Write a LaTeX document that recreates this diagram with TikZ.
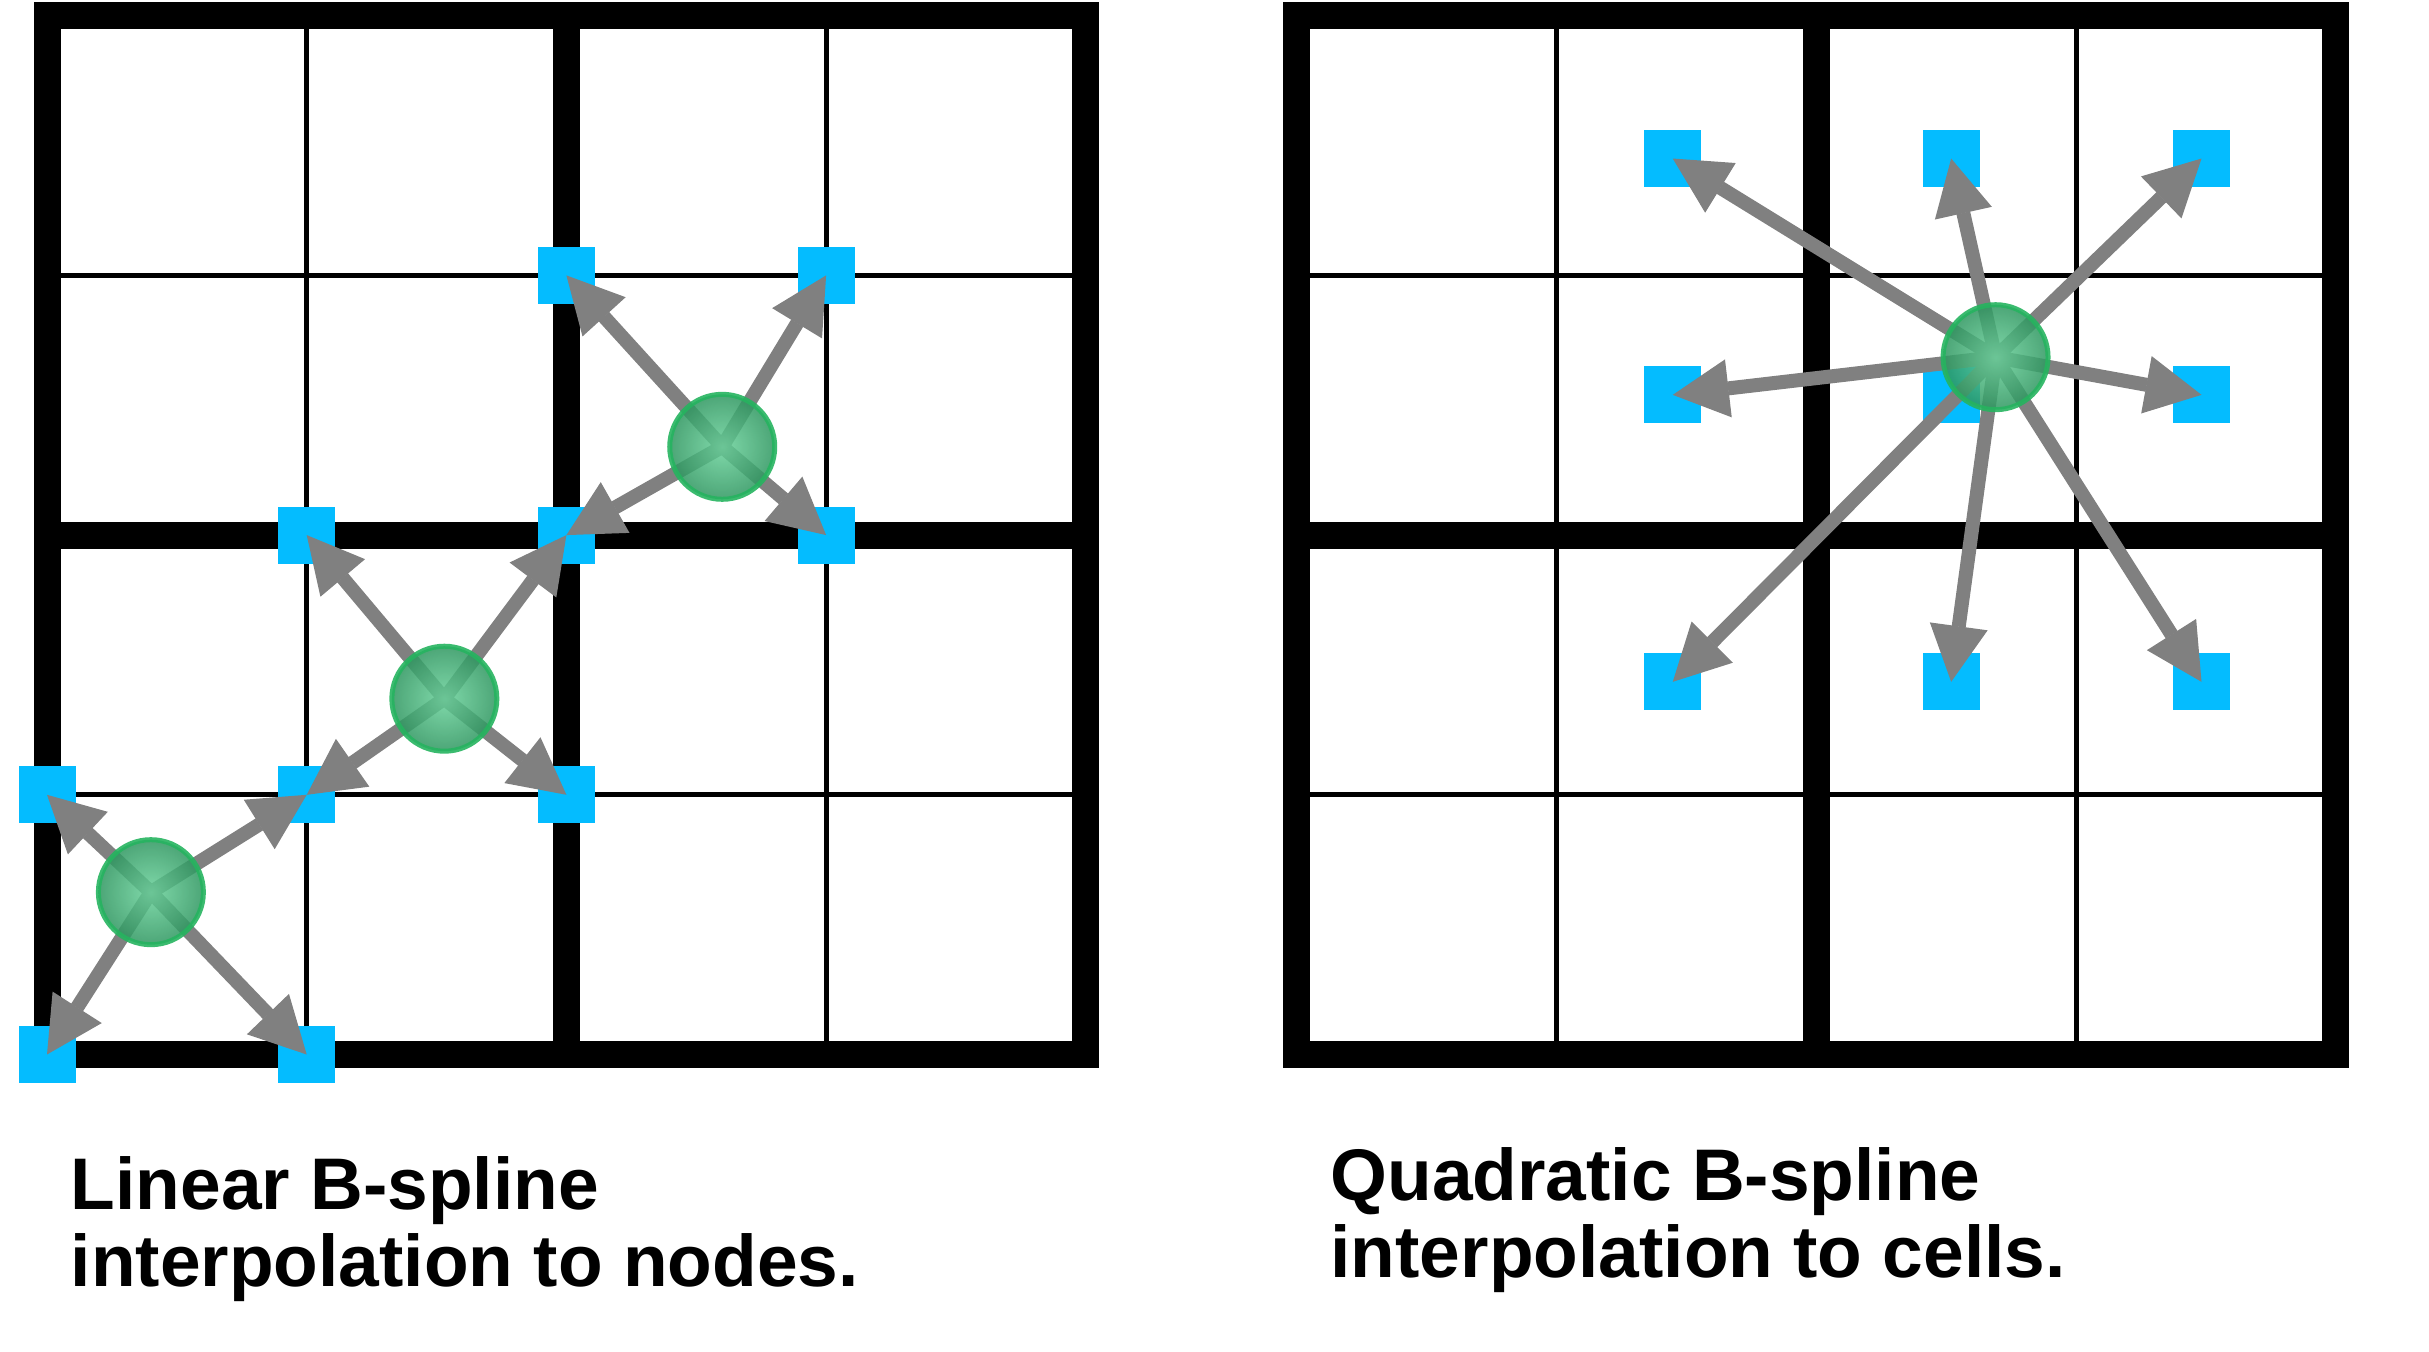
\documentclass[tikz,border=0pt]{standalone}
\usepackage{fontspec}
\setsansfont{Liberation Sans}
\usepackage{tikz}
\usetikzlibrary{arrows.meta,positioning}

\definecolor{nodeblue}{RGB}{4,188,255}
\definecolor{arrowgray}{RGB}{128,128,128}
\definecolor{ringgreen}{RGB}{38,180,95}
\definecolor{partlight}{RGB}{105,210,155}
\definecolor{partdark}{RGB}{45,150,95}

\tikzset{
  thinline/.style={line width=0.05cm, black},
  thickline/.style={line width=0.27cm, black, line join=miter},
  gridpt/.style={rectangle, fill=nodeblue, minimum size=0.57cm, inner sep=0},
  interp/.style={color=arrowgray, line width=0.14cm,
    -{Triangle[length=0.56cm,width=0.58cm,line width=0.4pt,fill=arrowgray]}},
  particle/.style={circle, minimum size=1.05cm, inner sep=0,
    draw=ringgreen, line width=0.05cm, draw opacity=0.9,
    shading=radial, inner color=partlight, outer color=partdark,
    fill opacity=0.85},
  caption/.style={font=\sffamily\bfseries\fontsize{20.8}{21.9}\selectfont,
    align=left, inner sep=0, anchor=base west}
}

\begin{document}
\begin{tikzpicture}[x=2.597cm,y=2.597cm]
\useasboundingbox (-0.181,-1.1455) rectangle (9.172,4.0604);

% the two 4x4 grids
\foreach \s in {0,4.813} {
  \begin{scope}[shift={(\s,0)}]
    \foreach \k in {1,3} {
      \draw[thinline] (\k,0) -- (\k,4);
      \draw[thinline] (0,\k) -- (4,\k);
    }
    \draw[thickline] (2,0) -- (2,4);
    \draw[thickline] (0,2) -- (4,2);
    \draw[thickline] (0,0) rectangle (4,4);
  \end{scope}
}

% left: grid nodes
\foreach \x/\y in {2/3,3/3,1/2,2/2,3/2,0/1,1/1,2/1,0/0,1/0}
  \node[gridpt] (n\x\y) at (\x,\y) {};

% right: cell centres
\begin{scope}[shift={(4.813,0)}]
  \foreach \i/\xx in {1/1.447,2/2.519,3/3.483}
    \foreach \j/\yy in {1/3.45,2/2.54,3/1.435}
      \node[gridpt] (c\i\j) at (\xx,\yy) {};
  \coordinate (q) at (2.69,2.685);
\end{scope}

\coordinate (p1) at (2.60,2.34);
\coordinate (p2) at (1.53,1.37);
\coordinate (p3) at (0.40,0.625);

\path[interp]
(p1) edge (n23.center)
     edge (n33.center)
     edge (n22.center)
     edge (n32.center)
(p2) edge (n12.center)
     edge (n22.center)
     edge (n11.center)
     edge (n21.center)
(p3) edge (n01.center)
     edge (n11.center)
     edge (n00.center)
     edge (n10.center);

\path[interp]
(q) edge (c11.center)
    edge (c21.center)
    edge (c31.center)
    edge (c12.center)
    edge (c32.center)
    edge (c13.center)
    edge (c23.center)
    edge (c33.center);

% particles on top
\foreach \p in {p1,p2,p3,q}
  \node[particle] (\p-dot) at (\p) {};

\node[caption] (lintext) at (0.089,-0.895) {Linear B-spline\\interpolation to nodes.};
\node[caption] (quadtext) at (4.94,-0.857) {Quadratic B-spline\\interpolation to cells.};
\end{tikzpicture}
\end{document}
